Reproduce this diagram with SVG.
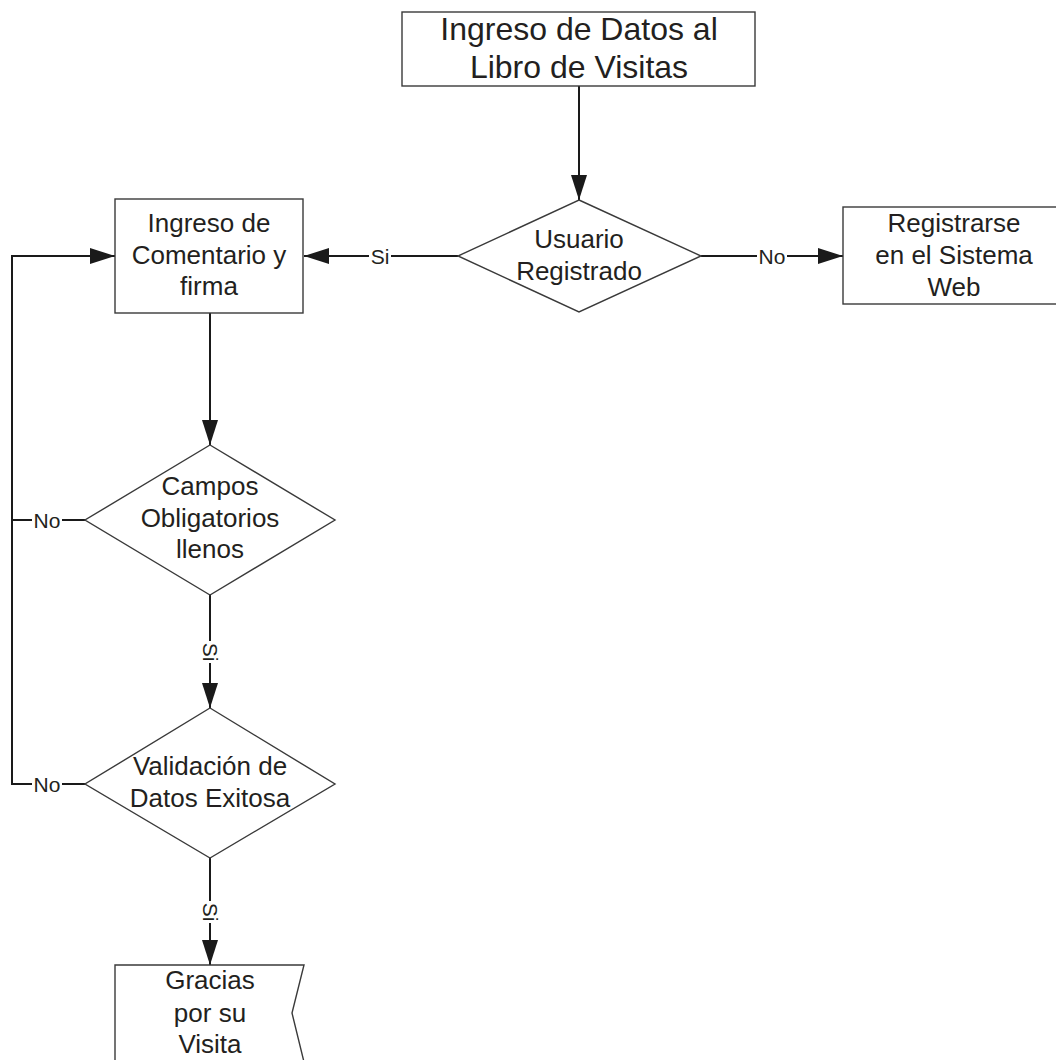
<svg xmlns="http://www.w3.org/2000/svg" width="1056" height="1060" viewBox="0 0 1056 1060">
<style>
  .node { fill: #ffffff; stroke: #3a3a3a; stroke-width: 1.4; }
  .conn { fill: none; stroke: #1a1a1a; stroke-width: 2; }
  .txt { font-family: "Liberation Sans", Arial, sans-serif; font-size: 26px; fill: #231f20; text-anchor: middle; }
  .big { font-size: 32px; }
  .lbl { font-family: "Liberation Sans", Arial, sans-serif; font-size: 21px; fill: #231f20; text-anchor: middle; }
  .lblbg { fill: #ffffff; stroke: none; }
</style>
<defs>
  <marker id="arrow" markerUnits="userSpaceOnUse" markerWidth="26" markerHeight="18" viewBox="0 0 26 18" refX="25" refY="9" orient="auto">
    <path d="M0,1 L25,9 L0,17 Z" fill="#1a1a1a"/>
  </marker>
</defs>
<rect width="1056" height="1060" fill="#ffffff"/>

<g id="connectors">
  <line class="conn" x1="579" y1="86" x2="579" y2="200" marker-end="url(#arrow)"/>
  <line class="conn" x1="458" y1="256" x2="304" y2="256" marker-end="url(#arrow)"/>
  <line class="conn" x1="701" y1="256" x2="843" y2="256" marker-end="url(#arrow)"/>
  <line class="conn" x1="210" y1="313" x2="210" y2="445" marker-end="url(#arrow)"/>
  <polyline class="conn" points="85,520 12,520"/>
  <polyline class="conn" points="85,784 12,784 12,256 115,256" marker-end="url(#arrow)"/>
  <line class="conn" x1="210" y1="595" x2="210" y2="708" marker-end="url(#arrow)"/>
  <line class="conn" x1="210" y1="858" x2="210" y2="965" marker-end="url(#arrow)"/>
  <g id="labels">
    <rect class="lblbg" x="369" y="246" width="22" height="20"/>
    <text class="lbl" x="380" y="264">Si</text>
    <rect class="lblbg" x="757" y="246" width="30" height="20"/>
    <text class="lbl" x="772" y="264">No</text>
    <rect class="lblbg" x="32" y="510" width="30" height="20"/>
    <text class="lbl" x="47" y="528">No</text>
    <rect class="lblbg" x="32" y="774" width="30" height="20"/>
    <text class="lbl" x="47" y="792">No</text>
    <rect class="lblbg" x="200" y="641" width="20" height="22"/>
    <text class="lbl" transform="translate(210,652) rotate(90)" x="0" y="7.5">Si</text>
    <rect class="lblbg" x="200" y="901" width="20" height="22"/>
    <text class="lbl" transform="translate(210,912) rotate(90)" x="0" y="7.5">Si</text>
  </g>
</g>

<g id="node-ingreso-datos">
  <rect class="node" x="402" y="12" width="353" height="74"/>
  <text class="txt big" x="579" y="40">Ingreso de Datos al</text>
  <text class="txt big" x="579" y="78">Libro de Visitas</text>
</g>

<g id="node-usuario-registrado">
  <polygon class="node" points="579,200 701,256 579,312 458,256"/>
  <text class="txt" x="579" y="248">Usuario</text>
  <text class="txt" x="579" y="280">Registrado</text>
</g>

<g id="node-registrarse">
  <rect class="node" x="843" y="207" width="222" height="97"/>
  <text class="txt" x="954" y="232">Registrarse</text>
  <text class="txt" x="954" y="264">en el Sistema</text>
  <text class="txt" x="954" y="296">Web</text>
</g>

<g id="node-ingreso-comentario">
  <rect class="node" x="115" y="199" width="188" height="114"/>
  <text class="txt" x="209" y="232">Ingreso de</text>
  <text class="txt" x="209" y="264">Comentario y</text>
  <text class="txt" x="209" y="295">firma</text>
</g>

<g id="node-campos">
  <polygon class="node" points="210,445 335,520 210,595 85,520"/>
  <text class="txt" x="210" y="495">Campos</text>
  <text class="txt" x="210" y="527">Obligatorios</text>
  <text class="txt" x="210" y="558">llenos</text>
</g>

<g id="node-validacion">
  <polygon class="node" points="210,708 335,784 210,858 85,784"/>
  <text class="txt" x="210" y="775">Validación de</text>
  <text class="txt" x="210" y="807">Datos Exitosa</text>
</g>

<g id="node-gracias">
  <polygon class="node" points="115,965 304,965 292,1013 304,1062 115,1062"/>
  <text class="txt" x="210" y="989">Gracias</text>
  <text class="txt" x="210" y="1022">por su</text>
  <text class="txt" x="210" y="1053">Visita</text>
</g>
</svg>
